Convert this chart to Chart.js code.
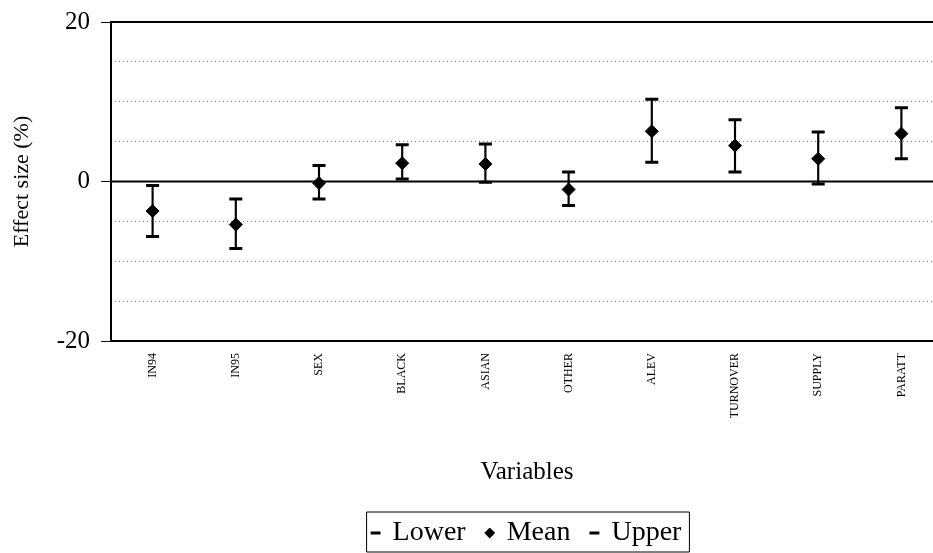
<!DOCTYPE html>
<html>
<head>
<meta charset="utf-8">
<script src="https://cdn.jsdelivr.net/npm/chart.js@4.4.1/dist/chart.umd.min.js"></script>
<style>
  html, body { margin: 0; padding: 0; background: #fff; overflow: hidden; }
  #chart { display: block; }
</style>
</head>
<body>
<canvas id="chart" width="953" height="553"></canvas>
<script>
// values
var categories = ['IN94', 'IN95', 'SEX', 'BLACK', 'ASIAN', 'OTHER', 'ALEV', 'TURNOVER', 'SUPPLY', 'PARATT']
var lower = [-6.9, -8.4, -2.2, 0.3, -0.1, -3.0, 2.4, 1.2, -0.3, 2.85]
var mean  = [-3.7, -5.4, -0.2, 2.3, 2.2, -1.0, 6.3, 4.5, 2.85, 6.0]
var upper = [-0.5, -2.2, 2.0, 4.6, 4.7, 1.2, 10.3, 7.75, 6.2, 9.25]
var yTickLabels = [-20, 0, 20]

var serif = "'Liberation Serif', 'Times New Roman', serif"

// frame round the plot, solid zero line and the box round the legend
var decorations = {
    id: 'decorations',
    beforeDatasetsDraw(chart) {
        var c = chart.ctx, a = chart.chartArea
        var y0 = chart.scales.y.getPixelForValue(0)
        c.save()
        c.strokeStyle = '#000'
        c.lineWidth = 2
        c.beginPath()
        c.moveTo(a.left, y0)
        c.lineTo(a.right, y0)
        c.stroke()
        c.restore()
    },
    afterDraw(chart) {
        var c = chart.ctx, a = chart.chartArea
        c.save()
        c.strokeStyle = '#000'
        c.lineWidth = 2
        c.strokeRect(a.left, a.top, a.right - a.left, a.bottom - a.top)
        var boxes = chart.legend.legendHitBoxes
        if (boxes && boxes.length) {
            var l = boxes[0].left - 6
            var r = boxes[boxes.length - 1].left + boxes[boxes.length - 1].width + 8
            var t = boxes[0].top - 7
            var b = 552
            c.lineWidth = 1
            c.beginPath()
            c.moveTo(l, b); c.lineTo(l, t); c.lineTo(r, t); c.lineTo(r, b); c.lineTo(l, b)
            c.stroke()
        }
        c.restore()
    }
}

new Chart(document.getElementById('chart'), {
    type: 'bar',
    data: {
        labels: categories,
        datasets: [
            {
                label: 'range',
                type: 'bar',
                data: lower.map((l, i) => [l, upper[i]]),
                backgroundColor: '#000',
                borderWidth: 0,
                barThickness: 1.5,
                order: 1
            },
            {
                label: 'Lower',
                type: 'line',
                data: lower,
                showLine: false,
                pointStyle: 'line',
                pointRadius: 6.5,
                borderWidth: 3,
                borderColor: '#000',
                backgroundColor: '#000',
                order: 0
            },
            {
                label: 'Mean',
                type: 'line',
                data: mean,
                showLine: false,
                pointStyle: 'rectRot',
                pointRadius: 6.5,
                borderWidth: 1,
                borderColor: '#000',
                backgroundColor: '#000',
                order: 0
            },
            {
                label: 'Upper',
                type: 'line',
                data: upper,
                showLine: false,
                pointStyle: 'line',
                pointRadius: 6.5,
                borderWidth: 3,
                borderColor: '#000',
                backgroundColor: '#000',
                order: 0
            }
        ]
    },
    options: {
        responsive: false,
        animation: false,
        layout: { padding: { top: 22, left: 0, right: 10, bottom: -4 } },
        plugins: {
            tooltip: { enabled: false },
            legend: {
                position: 'bottom',
                fullSize: false,
                labels: {
                    usePointStyle: true,
                    boxWidth: 6,
                    boxHeight: 7,
                    padding: 21,
                    color: '#000',
                    font: { family: serif, size: 28 },
                    filter: (item) => item.text !== 'range',
                    sort: (a, b) => a.datasetIndex - b.datasetIndex
                }
            }
        },
        scales: {
            x: {
                offset: true,
                grid: { display: false, drawTicks: false },
                border: { display: false },
                ticks: {
                    autoSkip: false,
                    minRotation: 90,
                    maxRotation: 90,
                    padding: 12,
                    color: '#000',
                    font: { family: serif, size: 12 }
                },
                title: {
                    display: true,
                    text: 'Variables',
                    color: '#000',
                    font: { family: serif, size: 25 },
                    padding: { top: 0, bottom: 11 }
                },
                afterFit: (scale) => { scale.height = 157 }
            },
            y: {
                min: -20,
                max: 20,
                ticks: {
                    stepSize: 5,
                    padding: 11,
                    color: '#000',
                    font: { family: serif, size: 25 },
                    callback: (v) => yTickLabels.includes(v) ? v : ''
                },
                grid: {
                    drawTicks: true,
                    tickLength: 10,
                    lineWidth: 1,
                    color: (ctx) => yTickLabels.includes(ctx.tick.value) ? 'rgba(0,0,0,0)' : 'rgba(0,0,0,0.5)',
                    tickColor: (ctx) => yTickLabels.includes(ctx.tick.value) ? '#000' : 'rgba(0,0,0,0)'
                },
                border: { display: false, dash: [1, 3] },
                title: {
                    display: true,
                    text: 'Effect size (%)',
                    color: '#000',
                    font: { family: serif, size: 22 },
                    padding: { top: 9, bottom: 0 }
                },
                afterFit: (scale) => {
                    scale.width = 111
                    scale.paddingTop = 0
                    scale.paddingBottom = 0
                }
            }
        }
    },
    plugins: [decorations]
})
</script>
</body>
</html>
